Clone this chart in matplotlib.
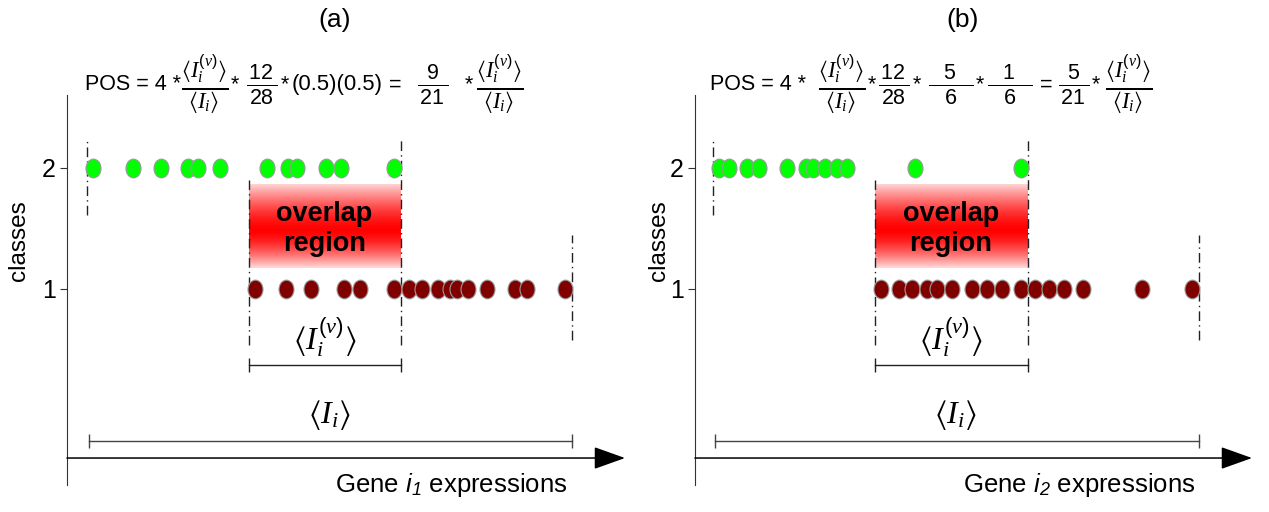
import numpy as np
import matplotlib
matplotlib.use("Agg")
import matplotlib.pyplot as plt
from matplotlib.path import Path
from matplotlib.transforms import Affine2D

plt.rcParams['font.family'] = ['Liberation Sans', 'DejaVu Sans']
plt.rcParams['mathtext.fontset'] = 'custom'
plt.rcParams['mathtext.rm'] = 'Liberation Sans'
plt.rcParams['mathtext.it'] = 'Liberation Serif:italic'
plt.rcParams['mathtext.bf'] = 'Liberation Sans:bold'
plt.rcParams['mathtext.sf'] = 'Liberation Sans:italic'
plt.rcParams['mathtext.fallback'] = 'stix'

# ---------------- data ----------------
classes = [1, 2]
class_labels = ["1", "2"]
panel_titles = ["(a)", "(b)"]
gene_sub = ["1", "2"]

# expression values (arbitrary units) of class-2 (green) and class-1 (red) samples
green_a = [26, 66, 94, 121, 131, 153, 200, 221, 230, 259, 274, 327]
red_a = [188, 219, 244, 277, 293, 327, 342, 355, 371, 383, 390, 401, 420, 448, 460, 498]
green_b = [24, 34, 52, 64, 92, 111, 118, 130, 142, 152, 220, 326]
red_b = [186, 204, 217, 232, 242, 257, 277, 292, 307, 326, 340, 354, 369, 388, 447, 497]

IV = r"\langle I_i^{\mathit{(v)}}\rangle"
II = r"\langle I_i\rangle"
FR = r"$\frac{%s}{%s}$" % (IV, II)
# formula pieces: (text, size factor, gap before in px); fractions are scaled by 1/0.7
F = 1 / 0.7
formula_a = [("POS = 4 *", 1, 0), (FR, 1.05 * F, 0), ("*", 1, 3),
             (r"$\frac{\,12\,}{28}$", F, 7), ("*", 1, 3), ("(0.5)(0.5)", 1.03, 3),
             ("=", 1, 6), (r"$\frac{9}{\,21\,}$", F, 16), ("*", 1, 16), (FR, 1.05 * F, 3)]
formula_b = [("POS = 4 *", 1, 0), (FR, 1.05 * F, 12), ("*", 1, 3),
             (r"$\frac{\,12\,}{28}$", F, 2), ("*", 1, 3),
             (r"$\frac{\ \ \ 5\ \ \ }{6}$", F, 7), ("*", 1, 3),
             (r"$\frac{\ \ \ 1\ \ \ }{6}$", F, 3), ("=", 1, 8),
             (r"$\frac{5}{\,21\,}$", F, 5), ("*", 1, 3), (FR, 1.05 * F, 5)]

panels = [
    dict(green=green_a, red=red_a, title=panel_titles[0], formula=formula_a,
         sub=gene_sub[0], left=0, width=634, xlim=(-67, 567), arrow_end=558, fx=18),
    dict(green=green_b, red=red_b, title=panel_titles[1], formula=formula_b,
         sub=gene_sub[1], left=634, width=635, xlim=(-61, 574), arrow_end=557, fx=15),
]

# ---------------- style ----------------
W, H = 1269, 512
fig = plt.figure(figsize=(W / 100, H / 100), dpi=100)

ellipse = Path.unit_circle().transformed(Affine2D().scale(0.8, 1.0))
pad = 6.5                     # half marker width in data units
ylim = (-0.843, 3.388)
y_axis = -0.397
dash = (0, (7, 3, 1, 3))
FS = 15.5                     # formula font size


def draw_formula(ax, x, y, pieces):
    prev = None
    for s, factor, gap in pieces:
        size = FS * factor
        if prev is None:
            prev = ax.text(x, y, s, ha='left', va='center', fontsize=size)
        else:
            prev = ax.annotate(s, xy=(1, y), xycoords=(prev, 'data'),
                               xytext=(gap * 0.72, 0), textcoords='offset points',
                               ha='left', va='center', fontsize=size,
                               annotation_clip=False)


# gradient for overlap region
t = np.linspace(0, 1, 200)
c = 0.55
a = np.where(t < c, 1 - (np.abs(t - c) / 0.62) ** 1.5, 1 - (np.abs(t - c) / 0.5) ** 1.5)
a = np.clip(a, 0, 1)
grad = np.ones((200, 1, 3))
grad[:, 0, 1] = 1 - a
grad[:, 0, 2] = 1 - a

for p in panels:
    ax = fig.add_axes([p['left'] / W, 0, p['width'] / W, 1])
    ax.patch.set_alpha(0)
    g = np.array(p['green'], float)
    r = np.array(p['red'], float)
    g_lo, g_hi = g.min() - pad, g.max() + pad
    r_lo, r_hi = r.min() - pad, r.max() + pad

    # overlap region
    ax.imshow(grad, extent=(r_lo, g_hi, 1.174, 1.86), aspect='auto',
              interpolation='bilinear', zorder=1)
    ax.text((r_lo + g_hi) / 2, 1.495, "overlap\nregion", ha='center', va='center',
            fontsize=19.5, fontweight='bold', linespacing=1.2, zorder=3)

    # boundary lines
    ax.plot([g_lo, g_lo], [1.612, 2.231], color='#222222', lw=1, ls=dash, zorder=2)
    ax.plot([r_lo, r_lo], [0.537, 1.90], color='#222222', lw=1, ls=dash, zorder=2)
    ax.plot([g_hi, g_hi], [0.537, 2.231], color='#222222', lw=1, ls=dash, zorder=2)
    ax.plot([r_hi, r_hi], [0.579, 1.446], color='#222222', lw=1, ls=dash, zorder=2)

    # points
    ax.plot(g, np.full_like(g, classes[1]), ls='none', marker=ellipse, markersize=13.5,
            mfc='#00ff00', mec='#9a9a9a', mew=0.8, zorder=4)
    ax.plot(r, np.full_like(r, classes[0]), ls='none', marker=ellipse, markersize=13.5,
            mfc='#800000', mec='#9a9a9a', mew=0.8, zorder=4)

    # brackets
    ax.plot([r_lo, g_hi], [0.372, 0.372], color='#222222', lw=1, marker='|',
            markersize=10, mew=1)
    ax.text((r_lo + g_hi) / 2, 0.60, "$" + IV + "$", ha='center', va='center', fontsize=23)
    ax.plot([g_lo + 2, r_hi], [-0.256, -0.256], color='#444444', lw=1, marker='|',
            markersize=10, mew=1)
    ax.text((g_lo + r_hi) / 2, -0.04, "$" + II + "$", ha='center', va='center', fontsize=23)

    # axes
    ax.set_xlim(*p['xlim'])
    ax.set_ylim(*ylim)
    for s in ['top', 'right', 'bottom']:
        ax.spines[s].set_visible(False)
    ax.spines['left'].set_position(('data', 0))
    ax.spines['left'].set_bounds(-0.62, 2.603)
    ax.spines['left'].set_color('#333333')
    ax.set_xticks([])
    ax.set_yticks(classes)
    ax.set_yticklabels(class_labels, fontsize=18)
    ax.tick_params(axis='y', direction='out', length=5, width=0.8, color='#333333', pad=3)
    ax.set_ylabel("classes", fontsize=17.5, family=['Liberation Sans Narrow', 'Liberation Sans'])
    ax.yaxis.set_label_coords(30 / p['width'] + (0 if p['left'] == 0 else 0.009), 0.53)

    ax.annotate('', xy=(p['arrow_end'], y_axis), xytext=(0, y_axis),
                arrowprops=dict(arrowstyle='-|>,head_length=1.4,head_width=0.5',
                                mutation_scale=14, lw=1.1, color='black',
                                shrinkA=0, shrinkB=0), annotation_clip=False)

    ax.text(384, -0.62, r"Gene $\mathsf{i}_{\mathsf{" + p['sub'] + r"}}$ expressions",
            ha='center', va='center', fontsize=18.5)
    ax.text(268, 3.223, p['title'], ha='center', va='center', fontsize=19)
    draw_formula(ax, p['fx'], 2.686, p['formula'])

fig.savefig("out.png", dpi=100)
